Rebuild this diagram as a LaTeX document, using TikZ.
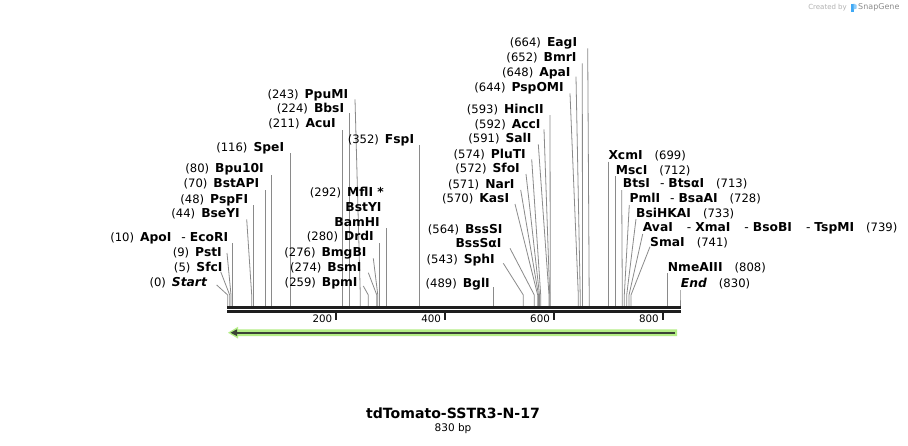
\documentclass[tikz,border=0pt]{standalone}
\usepackage{fontspec}
\setmainfont{DejaVu Sans}
\usetikzlibrary{calc}
\definecolor{conncol}{HTML}{8A8A8A}
\definecolor{bbcol}{HTML}{1E1E1E}
\definecolor{featgreen}{HTML}{B4EE86}
\definecolor{featdark}{HTML}{3C4436}
\definecolor{sgblue}{HTML}{3FA9F5}
\tikzset{
  lab/.style={inner sep=0pt, font=\fontsize{11.6}{13}\selectfont},
  conn/.style={draw=conncol, line width=0.8pt},
  tick/.style={draw=bbcol, line width=1.8pt},
  ticklab/.style={inner sep=0pt, anchor=base east, font=\fontsize{10.3}{12}\selectfont},
}
\newcommand\nm[1]{\textbf{\fontsize{12.3}{13}\selectfont #1}}
\newcommand\sepr{\hspace{10pt}{\mdseries -}\hspace{4pt}}
\newcommand\sepw{\hspace{14pt}{\mdseries -}\hspace{4pt}}
% left label with connector: name, num, text, xr, yc, topx, topy, sitex
\newcommand\Ls[8]{%
  \node[lab,anchor=base east] (#1) at (#4,#5+4.3) {(#2)\hspace{6pt}\nm{#3}};
  \coordinate (#1t) at (#6,#7);
  \coordinate (#1b) at (#8,295);
  \coordinate (#1s) at (#8,306);
  \draw[conn] (#1t) -- (#1b) -- (#1s);}
% right label with connector
\newcommand\Rs[8]{%
  \node[lab,anchor=base west] (#1) at (#4,#5+4.3) {\nm{#3}\hspace{12pt}(#2)};
  \coordinate (#1t) at (#6,#7);
  \coordinate (#1b) at (#8,295);
  \coordinate (#1s) at (#8,306);
  \draw[conn] (#1t) -- (#1b) -- (#1s);}
% label only
\newcommand\Lo[4]{%
  \node[lab,anchor=base east] (#1) at (#3,#4+4.3) {\nm{#2}};}
\begin{document}
\begin{tikzpicture}[x=1pt,y=-1pt]
\useasboundingbox (0,0) rectangle (908,445);
\fill[white] (0,0) rectangle (908,445);

% ---- left group
\Ls{start}{0}{\textit{Start}}{207.5}{281.7}{216.7}{285}{227.7}
\Ls{sfci}{5}{SfcI}{222.7}{266.7}{220.7}{271.7}{229.7}
\Ls{psti}{9}{PstI}{222}{251.7}{227}{253}{231}
\Ls{apoi}{10}{ApoI\sepr EcoRI}{228.3}{237.3}{232.7}{243.3}{232.7}
\Ls{bseyi}{44}{BseYI}{240}{213.3}{246.7}{219.3}{251.7}
\Ls{pspfi}{48}{PspFI}{248.3}{199.3}{253.8}{205}{253.8}
\Ls{bstapi}{70}{BstAPI}{259.3}{183.3}{265.7}{190}{265.7}
\Ls{bpuxi}{80}{Bpu10I}{264}{168.3}{271.5}{175}{271.5}
\Ls{spei}{116}{SpeI}{284.3}{146.7}{290.5}{153.3}{290.5}
\Ls{ppumi}{243}{PpuMI}{348.3}{94}{355}{99.3}{360.3}
\Ls{bbsi}{224}{BbsI}{344.3}{108.3}{349.5}{113.3}{349.5}
\Ls{acui}{211}{AcuI}{336}{123.3}{342.3}{130}{342.3}
\Ls{fspi}{352}{FspI}{414.3}{139.3}{419.3}{145}{419.3}
\node[lab,anchor=base east] (mfli) at (384,191.7+4.3) {(292)\hspace{6pt}\nm{MflI *}};
\Lo{bstyi}{BstYI}{381.7}{206.7}
\Lo{bamhi}{BamHI}{380}{221.7}
\coordinate (bamhit) at (386.3,228.3);
\coordinate (bamhis) at (386.3,306);
\draw[conn] (bamhit) -- (bamhis);
\Ls{drdi}{280}{DrdI}{374}{236}{379.3}{243.3}{379.3}
\Ls{bmgbi}{276}{BmgBI}{366.7}{251.7}{373.3}{258.3}{377.8}
\Ls{bsmi}{274}{BsmI}{361.7}{266.7}{368.3}{272.7}{376.8}
\Ls{bpmi}{259}{BpmI}{357.7}{281.7}{363.3}{286}{368.3}

% ---- middle group
\Ls{eagi}{664}{EagI}{577.3}{42.3}{587.7}{48.3}{589.2}
\Ls{bmri}{652}{BmrI}{576.7}{56.7}{582.3}{63.3}{582.5}
\Ls{apai}{648}{ApaI}{570.7}{72.3}{576}{76.7}{580.2}
\Ls{pspomi}{644}{PspOMI}{564}{86.7}{570}{93.3}{578.3}
\Ls{hincii}{593}{HincII}{544}{109}{550}{115}{550.3}
\Ls{acci}{592}{AccI}{540.7}{124.3}{544}{129.3}{549.7}
\Ls{sali}{591}{SalI}{531.7}{138.3}{538.3}{144.3}{549}
\Ls{pluti}{574}{PluTI}{526}{154}{531.7}{159.3}{540.7}
\Ls{sfoi}{572}{SfoI}{520}{168.3}{526}{174}{539.5}
\Ls{nari}{571}{NarI}{514.7}{184}{520.7}{190}{538.5}
\Ls{kasi}{570}{KasI}{509.3}{198.3}{515}{204}{537.7}
\node[lab,anchor=base east] (bsssi) at (502.7,229.3+4.3) {(564)\hspace{6pt}\nm{BssSI}};
\Lo{bsssai}{BssSαI}{501.7}{242.7}
\coordinate (bsssait) at (510,248.3);
\coordinate (bsssaib) at (534.3,295);
\coordinate (bsssais) at (534.3,306);
\draw[conn] (bsssait) -- (bsssaib) -- (bsssais);
\Ls{sphi}{543}{SphI}{495}{259.3}{503.3}{263.3}{523.3}
\Ls{bgli}{489}{BglI}{490}{283.3}{493.3}{287.3}{493.3}

% ---- right group
\Rs{xcmi}{699}{XcmI}{608.3}{155}{608.3}{161.7}{608.3}
\Rs{msci}{712}{MscI}{615.7}{170}{615.5}{176}{615.5}
\Rs{btsi}{713}{BtsI\sepr BtsαI}{622.7}{183.3}{621.7}{190}{622.3}
\Rs{pmli}{728}{PmlI\sepr BsaAI}{629.3}{198.3}{629.3}{205}{624.3}
\Rs{bsihkai}{733}{BsiHKAI}{636}{212.7}{636}{219}{626.7}
\Rs{avai}{739}{AvaI\sepw XmaI\sepw BsoBI\sepw TspMI}{642.7}{227.3}{642.7}{234}{629}
\Rs{smai}{741}{SmaI}{650}{241.7}{650}{246.7}{631}
\Rs{nmeaiii}{808}{NmeAIII}{667.7}{266.7}{667.5}{273}{667.5}
\Rs{endl}{830}{\textit{End}}{680.7}{283.3}{680}{290}{680}

% ---- backbone
\coordinate (bbL) at (227,307.3);
\coordinate (bbR) at (681,307.3);
\draw[bbcol, line width=2.7pt] (bbL) -- (bbR);
\draw[bbcol, line width=2.7pt] ($(bbL)+(0,4)$) -- ($(bbR)+(0,4)$);

% ---- ticks
\foreach \bp in {200,400,600,800} {
  \coordinate (tk\bp) at ({227.5+0.5443*\bp},312);
  \draw[tick] (tk\bp) -- ++(0,8);
  \node[ticklab] (tl\bp) at ($(tk\bp)+(-4,10)$) {\bp};
}

% ---- feature arrow
\coordinate (fa) at (677,332.7);
\coordinate (fb) at (228,332.7);
\fill[featgreen] (677,329.4) -- (238,329.4) -- (238,326.8) -- (fb) -- (238,338.6) -- (238,336) -- (677,336) -- cycle;
\draw[featdark, line width=2pt] (675,332.7) -- (235,332.7);
\fill[featdark] (230.5,332.7) -- (237,329.3) -- (237,336.1) -- cycle;

% ---- title
\node[inner sep=0pt, font=\bfseries\fontsize{14.1}{16}\selectfont] (title) at (453,413) {tdTomato-SSTR3-N-17};
\node[inner sep=0pt, font=\fontsize{10.5}{12}\selectfont] (len) at (453,429) {830 bp};

% ---- credit
\node[inner sep=0pt, anchor=east, text=black!30, font=\fontsize{7}{8}\selectfont] (cred) at (847,7.5) {Created by};
\fill[sgblue] (850.5,3.5) rectangle (853.5,12);
\fill[sgblue!60] (853.5,3.5) -- (856.5,5) -- (856.5,8.5) -- (853.5,9.5) -- cycle;
\node[inner sep=0pt, anchor=west, text=black!45, font=\fontsize{8}{9}\selectfont] (sg) at (858,7.5) {SnapGene};
\end{tikzpicture}
\end{document}
